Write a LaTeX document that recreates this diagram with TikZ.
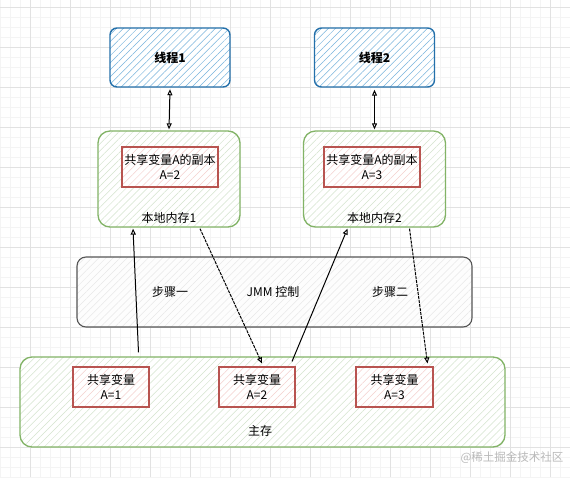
\documentclass[tikz,border=0pt]{standalone}
\usepackage{fontspec}
\setmainfont{Noto Sans CJK SC}
\usepackage{tikz}
\usetikzlibrary{calc, positioning, arrows.meta, patterns.meta}
\usepackage{xcolor}
\definecolor{thrBorder}{RGB}{36, 112, 170}
\definecolor{thrHatch}{RGB}{120, 180, 220}
\definecolor{memBorder}{RGB}{130, 179, 102}
\definecolor{memHatch}{RGB}{212, 228, 206}
\definecolor{varBorder}{RGB}{184, 84, 80}
\definecolor{varHatch}{RGB}{244, 208, 206}
\definecolor{jmmBorder}{RGB}{85, 85, 85}
\definecolor{jmmHatch}{RGB}{232, 232, 232}
\definecolor{gridMajor}{RGB}{226, 226, 226}
\definecolor{gridMinor}{RGB}{244, 244, 244}

\tikzset{
  hatch/.style={pattern={Lines[angle=45, distance=5pt, line width=0.5pt]}, pattern color=#1},
  thread/.style={draw=thrBorder, line width=1.4pt, rounded corners=7pt,
    preaction={fill=white}, hatch=thrHatch, minimum width=120pt, minimum height=59pt,
    font=\fontsize{12}{15}\selectfont\bfseries},
  localmem/.style={draw=memBorder, line width=1.3pt, rounded corners=12pt,
    preaction={fill=white}, hatch=memHatch, minimum width=142pt, minimum height=96pt},
  varbox/.style={draw=varBorder, line width=1.1pt, preaction={fill=white},
    hatch=varHatch, align=center, inner sep=0pt, font=\fontsize{12}{15}\selectfont},
  txt/.style={font=\fontsize{12}{15}\selectfont, inner sep=1pt},
  conn/.style={line width=1pt, -{Triangle[open, length=6pt, width=5pt]}},
  both/.style={line width=1pt, {Triangle[open, length=6pt, width=5pt]}-{Triangle[open, length=6pt, width=5pt]}},
}

\begin{document}
\begin{tikzpicture}[x=1pt, y=-1pt]
  \useasboundingbox (0,0) rectangle (570,477);
  % background grid
  \fill[white] (0,0) rectangle (570,477);
  \draw[gridMinor, line width=0.4pt, shift={(0,7)}, step=10pt] (0,-7) grid (570,470);
  \draw[gridMajor, line width=0.5pt, shift={(30,7)}, step=40pt] (-30,-7) grid (540,470);

  % threads
  \node[thread] (t1) at (170, 57.5) {线程1};
  \node[thread] (t2) at (374.5, 57.5) {线程2};

  % local memory
  \node[localmem] (loc1) at (169, 179) {};
  \node[localmem] (loc2) at (374.5, 179) {};
  \node[varbox, minimum width=96pt, minimum height=40pt] (cp1) at (170, 167)
    {共享变量A的副本\\A=2};
  \node[varbox, minimum width=96pt, minimum height=40pt] (cp2) at (372, 167)
    {共享变量A的副本\\A=3};
  \node[txt, above=3pt of loc1.south] (lab1) {本地内存1};
  \node[txt, above=3pt of loc2.south] (lab2) {本地内存2};

  % JMM
  \node[draw=jmmBorder, line width=1.1pt, rounded corners=9pt, preaction={fill=gray!1.5},
    hatch=jmmHatch, minimum width=395pt, minimum height=70pt] (jmm) at (274.5, 292) {};
  \node[txt] (s1) at (170, 292) {步骤一};
  \node[txt] (ctl) at (273, 292) {JMM 控制};
  \node[txt] (s2) at (390, 292) {步骤二};

  % main memory
  \node[localmem, minimum width=485pt, minimum height=90pt] (mem) at (262.5, 402) {};
  \node[varbox, minimum width=76pt, minimum height=40pt] (sv1) at (111, 387) {共享变量\\A=1};
  \node[varbox, minimum width=76pt, minimum height=40pt] (sv2) at (257, 387) {共享变量\\A=2};
  \node[varbox, minimum width=77pt, minimum height=40pt] (sv3) at (394.5, 387) {共享变量\\A=3};
  \node[txt] (mlab) at (260, 431) {主存};

  % connectors
  \draw[both] ([yshift=-2pt]t1.south) -- ([yshift=1pt]loc1.north);
  \draw[both] ([yshift=-2pt]t2.south) -- ([yshift=1pt]loc2.north);
  \draw[conn] ([xshift=-124pt, yshift=4pt]mem.north) -- ([xshift=-36pt, yshift=-1pt]loc1.south);
  \draw[conn, dash pattern=on 3pt off 1pt] ([xshift=31pt, yshift=-1pt]loc1.south) -- ([xshift=5pt, yshift=3pt]sv2.north);
  \draw[conn] ([xshift=35pt, yshift=5pt]sv2.north) -- ([xshift=-27pt, yshift=-1pt]loc2.south);
  \draw[conn, dash pattern=on 3pt off 1pt] ([xshift=35pt, yshift=-1pt]loc2.south) -- ([xshift=33pt, yshift=3pt]sv3.north);

  \node[font=\fontsize{11.5}{14}\selectfont, text=gray!55, anchor=east] (wm) at (567, 458) {@稀土掘金技术社区};
\end{tikzpicture}
\end{document}
